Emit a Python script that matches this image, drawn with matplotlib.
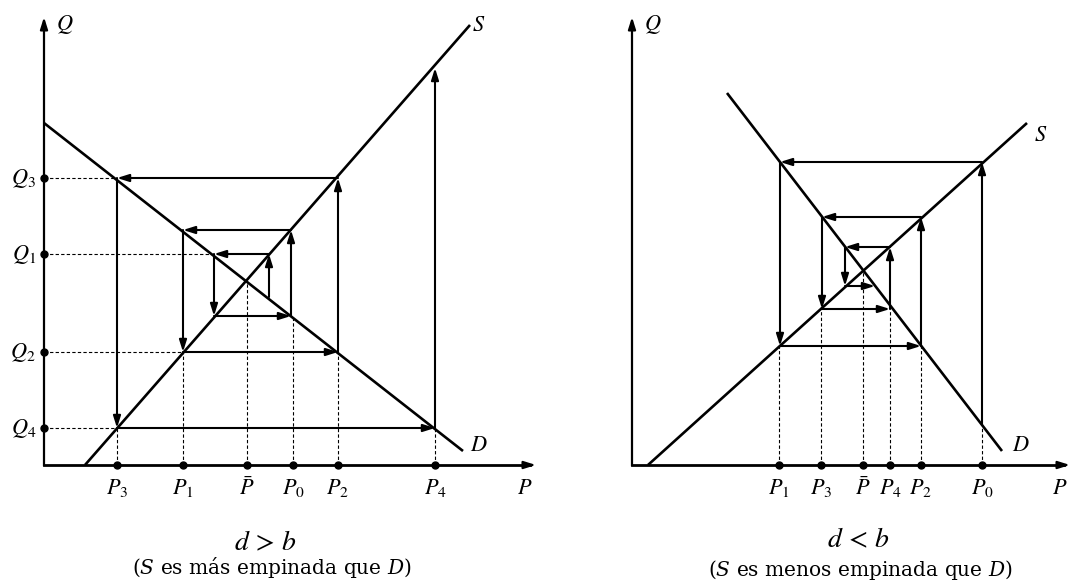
import matplotlib
matplotlib.use('Agg')
import matplotlib.pyplot as plt

plt.rcParams['mathtext.fontset'] = 'stix'
plt.rcParams['font.family'] = 'DejaVu Serif'

# ---- left panel: d > b (divergent) ----
left_P_ticks = [73, 139, 203, 249, 294, 391]
left_P_labels = [r'$P_3$', r'$P_1$', r'$\bar{P}$', r'$P_0$', r'$P_2$', r'$P_4$']
left_P_guide = [37, 113, 184, 150, 113, 37]      # height the dashed guide goes up to
left_Q_ticks = [287, 211, 113, 37]
left_Q_labels = [r'$Q_3$', r'$Q_1$', r'$Q_2$', r'$Q_4$']
left_Q_guide = [73, 170, 139, 73]                # where the dashed guide stops
left_S = ([41, 426], [0, 440])
left_D = ([0, 419], [342, 14])
left_web_P = [225, 225, 170, 170, 247, 247, 139, 139, 294, 294, 73, 73, 391, 391]
left_web_Q = [168, 211, 211, 149, 149, 235, 235, 113, 113, 287, 287, 37, 37, 397]

# ---- right panel: d < b (convergent) ----
right_P_ticks = [147, 189, 231, 258, 289, 350]
right_P_labels = [r'$P_1$', r'$P_3$', r'$\bar{P}$', r'$P_4$', r'$P_2$', r'$P_0$']
right_P_guide = [119, 156, 195, 156, 119, 40]
right_S = ([16, 395], [0, 342])
right_D = ([95, 370], [372, 14])
right_web_P = [350, 350, 148, 148, 289, 289, 190, 190, 258, 258, 213, 213, 243]
right_web_Q = [40, 303, 303, 119, 119, 248, 248, 156, 156, 218, 218, 179, 179]

W, H = 1070, 580
fig = plt.figure(figsize=(W / 100, H / 100), dpi=100)
fig.patch.set_facecolor('white')

lw_main = 1.9
lw_web = 1.5
dash = (0, (3, 2))


def arrow(ax, x0, y0, x1, y1, lw):
    ax.annotate('', xy=(x1, y1), xytext=(x0, y0),
                arrowprops=dict(arrowstyle='-|>,head_length=0.7,head_width=0.22',
                                lw=lw, color='black', shrinkA=0, shrinkB=0))


def make_panel(rect, xlim, ylim, x_end, y_end):
    ax = fig.add_axes(rect)
    ax.set_xlim(*xlim)
    ax.set_ylim(*ylim)
    ax.axis('off')
    # axes with arrow heads
    ax.plot([0, 0], [0, y_end - 6], color='black', lw=1.6)
    arrow(ax, 0, y_end - 10, 0, y_end, 1.6)
    ax.plot([0, x_end - 6], [0, 0], color='black', lw=2.0)
    arrow(ax, x_end - 10, 0, x_end, 0, 1.6)
    return ax


def draw(ax, S, D, web_P, web_Q, P_ticks, P_labels, P_guide):
    ax.plot(S[0], S[1], color='black', lw=lw_main, solid_capstyle='butt')
    ax.plot(D[0], D[1], color='black', lw=lw_main, solid_capstyle='butt')
    for i in range(len(web_P) - 1):
        arrow(ax, web_P[i], web_Q[i], web_P[i + 1], web_Q[i + 1], lw_web)
    for p, lab, top in zip(P_ticks, P_labels, P_guide):
        ax.plot([p, p], [0, top], color='black', lw=0.8, linestyle=dash)
        ax.plot(p, 0, 'o', color='black', ms=5, clip_on=False, zorder=5)
        ax.text(p, -12, lab, ha='center', va='top', fontsize=16)


# left
axL = make_panel([0, 0, 600 / W, 1], (-44, 556), (-115, 465), 492, 448)
draw(axL, left_S, left_D, left_web_P, left_web_Q,
     left_P_ticks, left_P_labels, left_P_guide)
for q, lab, end in zip(left_Q_ticks, left_Q_labels, left_Q_guide):
    axL.plot([0, end], [q, q], color='black', lw=0.8, linestyle=dash)
    axL.plot(0, q, 'o', color='black', ms=5, clip_on=False, zorder=5)
    axL.text(-8, q, lab, ha='right', va='center', fontsize=16)
axL.text(12, 440, r'$Q$', fontsize=16, ha='left', va='center')
axL.text(428, 440, r'$S$', fontsize=16, ha='left', va='center')
axL.text(426, 20, r'$D$', fontsize=16, ha='left', va='center')
axL.text(481, -12, r'$P$', fontsize=16, ha='center', va='top')
axL.text(221, -78, r'$d\,>\,b$', fontsize=20, ha='center', va='center')
axL.text(228, -102, r'($S$ es más empinada que $D$)', fontsize=14.5,
         ha='center', va='center', math_fontfamily='dejavuserif')

# right
axR = make_panel([600 / W, 0, 470 / W, 1], (-32, 438), (-115, 465), 438, 448)
draw(axR, right_S, right_D, right_web_P, right_web_Q,
     right_P_ticks, right_P_labels, right_P_guide)
axR.text(12, 440, r'$Q$', fontsize=16, ha='left', va='center')
axR.text(402, 330, r'$S$', fontsize=16, ha='left', va='center')
axR.text(380, 20, r'$D$', fontsize=16, ha='left', va='center')
axR.text(428, -12, r'$P$', fontsize=16, ha='center', va='top')
axR.text(226, -75, r'$d\,<\,b$', fontsize=20, ha='center', va='center')
axR.text(228, -105, r'($S$ es menos empinada que $D$)', fontsize=14.5,
         ha='center', va='center', math_fontfamily='dejavuserif')

fig.savefig('out.png', dpi=100, facecolor='white')
